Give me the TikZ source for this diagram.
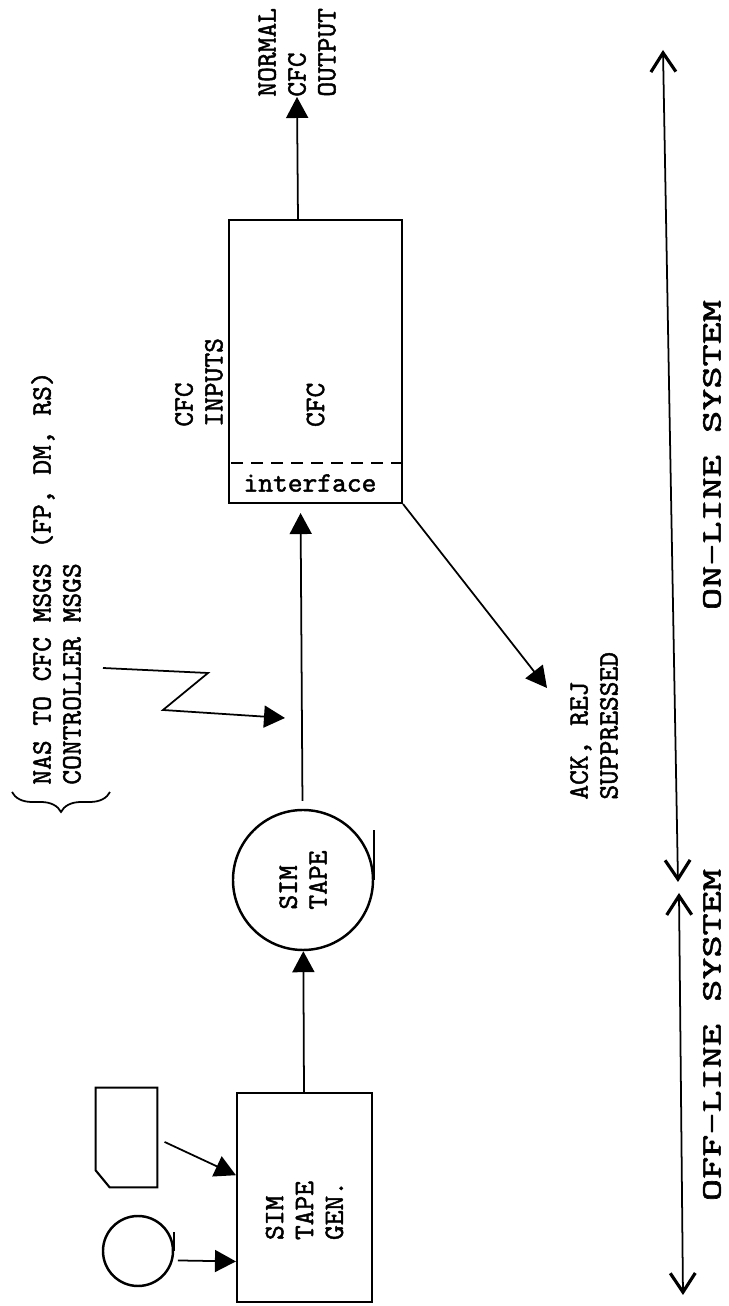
\documentclass[tikz,border=0pt]{standalone}
\usepackage{fontspec}
\usepackage{tikz}
\usetikzlibrary{shapes,arrows.meta,calc,decorations.pathreplacing}
\newfontfamily\typw{lmmono10-regular.otf}[RawFeature={embolden=1.6}]
\newcommand{\typfont}{\fontsize{16}{17}\selectfont\typw}
\tikzstyle{proc}=[rectangle,draw,line width=1.2pt,align=left,font=\typfont,inner sep=0pt]
\tikzstyle{reel}=[circle,draw,line width=1.4pt,align=left,font=\typfont,inner sep=0pt]
\tikzstyle{lbl}=[align=left,font=\typfont,inner sep=0pt]
\tikzstyle{arr}=[draw,-{Triangle[length=0.42cm,width=0.44cm]},line width=1pt]
\tikzstyle{span}=[{Straight Barb[length=0.38cm,width=0.5cm,line width=1.8pt]}-{Straight Barb[length=0.38cm,width=0.5cm,line width=1.8pt]},line width=1pt]

\begin{document}
\begin{tikzpicture}[rotate=90,transform shape]
\useasboundingbox (0,0) rectangle (26.12,14.58);
\node[proc,minimum width=4.18cm,minimum height=2.70cm,text width=1.70cm] (A) at (2.17,8.49) {SIM\\TAPE\\GEN.};
\node[reel,minimum size=1.40cm] (B) at (1.10,11.82) {};
\draw[line width=1.4pt] (B.south) -- ++(0.38,0);
\node[minimum width=1.98cm,minimum height=1.22cm,inner sep=0pt] (C) at (3.37,12.05) {};
\draw[line width=1.2pt] (C.south west) -- (C.south east) -- (C.north east) -- ($(C.north west)+(0.34,0)$) -- ($(C.north west)+(0,-0.28)$) -- cycle;
\node[reel,minimum size=2.80cm] (D) at (8.52,8.52) {SIM\\TAPE};
\draw[line width=1.4pt] (D.south) -- ++(1.0,0);
\node[proc,minimum width=5.66cm,minimum height=3.46cm,text width=2.62cm] (E) at (18.89,8.27) {CFC};
\draw[line width=1pt,dash pattern=on 0.24cm off 0.16cm] ($(E.south west)+(0.82,0)$) -- ($(E.north west)+(0.82,0)$);
\node[lbl,rotate=-90] (I) at (16.46,8.38) {interface};
\node[lbl,anchor=west] (J) at (17.58,10.60) {CFC\\INPUTS};
\node[lbl,anchor=west] (F) at (24.18,8.64) {NORMAL\\CFC\\OUTPUT};
\node[lbl,anchor=west] (G) at (10.12,2.70) {ACK, REJ\\SUPPRESSED};
\node[lbl,anchor=west] (H) at (10.42,13.46) {NAS TO CFC MSGS (FP, DM, RS)\\CONTROLLER MSGS};
\node[lbl,xscale=1.5] (K) at (5.42,0.34) {OFF-LINE SYSTEM};
\node[lbl,xscale=1.5] (L) at (17.02,0.34) {ON-LINE SYSTEM};
\coordinate (P) at (11.76,8.88);
\coordinate (Q) at (12.36,3.64);
\coordinate (Z0) at (12.76,12.52);
\path[arr,shorten <=0.1cm] (B.-105) -- (A.133);
\path[arr,shorten <=0.16cm] (C.-92) -- (A.72);
\path[arr] (A) -- (D);
\path[arr,shorten <=0.16cm,shorten >=0.18cm] (D) -- (E.174.5);
\path[arr] (E.7.5) -- (F.west);
\path[arr] (E.south west) -- (Q);
\draw[arr] (Z0) -- (12.66,10.42) -- (11.92,11.32) -- (P);
\draw[line width=1pt,decorate,decoration={brace,amplitude=0.4cm}] (10.28,12.38) -- (10.28,14.34);
\draw[span] (0.22,0.92) -- (8.26,1.00);
\draw[span] (8.48,1.02) -- (25.12,1.32);
\end{tikzpicture}
\end{document}
